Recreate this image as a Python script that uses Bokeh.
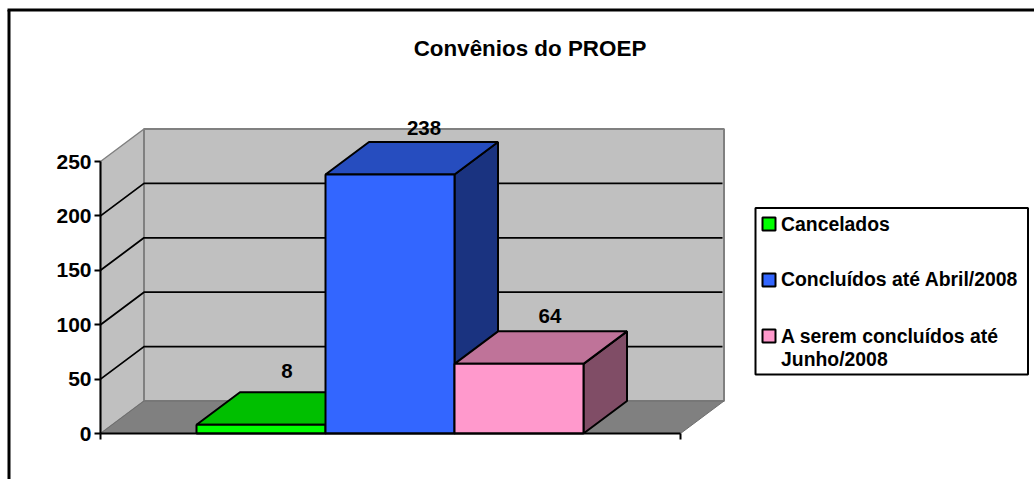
from bokeh.plotting import figure
from bokeh.models import LinearAxis, FixedTicker, Range1d
from bokeh.core.properties import value
from bokeh.embed import file_html
from bokeh.resources import INLINE

TITLE = "Convênios do PROEP"
series = ["Cancelados", "Concluídos até Abril/2008", "A serem concluídos até\nJunho/2008"]
values = [8, 238, 64]
y_ticks = [0, 50, 100, 150, 200, 250]
front = ["#00FF00", "#3366FF", "#FF99CC"]
top = ["#00BF00", "#264DBF", "#BF7399"]
side = ["#008000", "#1A3380", "#804D66"]

W, H = 1034, 479
BAR_PX, BAR0_PX = 129.0, 196.0
Y_PX, Y0_PX = 1.088, 433.0
FONT = value("Liberation Sans")


def X(px):
    return (px - BAR0_PX) / BAR_PX


def Y(px):
    return (Y0_PX - px) / Y_PX


DX = 43.5 / BAR_PX
DY = 32.5 / Y_PX
AX0, AX1 = X(100), X(680)
VMAX = y_ticks[-1]

p = figure(width=W, height=H, output_backend="svg", toolbar_location=None,
           x_axis_type=None, y_axis_type=None,
           x_range=Range1d(X(0), X(W)), y_range=Range1d(Y(H), Y(0)),
           min_border=0, outline_line_color=None, background_fill_color="white")

p.line([X(8.5), X(8.5)], [Y(H), Y(9.5)], line_color="black", line_width=3)
p.line([X(7), X(W)], [Y(9.5), Y(9.5)], line_color="black", line_width=3)

WALL = "#C0C0C0"
EDGE = "#808080"
p.patch([AX0, AX0 + DX, AX0 + DX, AX0], [0, DY, VMAX + DY, VMAX],
        fill_color=WALL, line_color=EDGE, line_width=1.5)
p.patch([AX0 + DX, AX1 + DX, AX1 + DX, AX0 + DX], [DY, DY, VMAX + DY, VMAX + DY],
        fill_color=WALL, line_color=EDGE, line_width=2)
p.patch([AX0, AX0 + DX, AX1 + DX, AX1], [0, DY, DY, 0],
        fill_color="#808080", line_color="#6E6E6E", line_width=1)
for t in y_ticks[1:-1]:
    p.line([AX0, AX0 + DX, AX1 + DX - 1.5 / BAR_PX], [t, t + DY, t + DY],
           line_color="black", line_width=1.8)

for i, v in enumerate(values):
    l, r = float(i), float(i + 1)
    p.patch([r, r + DX, r + DX, r], [0, DY, v + DY, v],
            fill_color=side[i], line_color="black", line_width=2)
    p.patch([l, r, r + DX, l + DX], [v, v, v + DY, v + DY],
            fill_color=top[i], line_color="black", line_width=2)
    p.patch([l, r, r, l], [0, 0, v, v],
            fill_color=front[i], line_color="black", line_width=2)

label_x_shift = [26, 34, 31]   # pixels right of each bar's centre
label_y_gap = [21, 14, 15.5]   # pixels above each bar's back top edge
lab_x = [i + 0.5 + label_x_shift[i] / BAR_PX for i in range(3)]
lab_y = [v + DY + label_y_gap[i] / Y_PX for i, v in enumerate(values)]
p.text(lab_x, lab_y, text=[str(v) for v in values], text_font=FONT, text_font_style="bold",
       text_font_size="20.5px", text_align="center", text_baseline="middle", text_color="black")

yaxis = LinearAxis(fixed_location=AX0, ticker=FixedTicker(ticks=y_ticks), bounds=(0, VMAX),
                   major_tick_out=6, major_tick_in=0, minor_tick_line_color=None,
                   axis_line_color="black", axis_line_width=2,
                   major_tick_line_color="black", major_tick_line_width=2,
                   major_label_standoff=3, major_label_text_font="Liberation Sans",
                   major_label_text_font_style="bold", major_label_text_font_size="21px",
                   major_label_text_color="black")
p.add_layout(yaxis, "left")
xaxis = LinearAxis(fixed_location=0, ticker=FixedTicker(ticks=[AX0, AX1]), bounds=(AX0, AX1),
                   major_tick_out=6, major_tick_in=0, minor_tick_line_color=None,
                   axis_line_color="black", axis_line_width=2,
                   major_tick_line_color="black", major_tick_line_width=2,
                   major_label_text_color=None, major_label_text_font_size="1px")
p.add_layout(xaxis, "below")

p.text([X(529.5)], [Y(48)], text=[TITLE], text_font=FONT, text_font_style="bold",
       text_font_size="22.4px", text_align="center", text_baseline="middle", text_color="black")

p.patch([X(755), X(1027.5), X(1027.5), X(755)], [Y(374), Y(374), Y(207.5), Y(207.5)],
        fill_color="white", line_color="black", line_width=2)
swatch_y = [223.5, 279.5, 335.5]
text_y = [223.5, 278.5, 335.5]
for i, name in enumerate(series):
    y = swatch_y[i]
    p.patch([X(762), X(775), X(775), X(762)], [Y(y + 6.5), Y(y + 6.5), Y(y - 6.5), Y(y - 6.5)],
            fill_color=front[i], line_color="black", line_width=2)
    p.text([X(780.5)], [Y(text_y[i])], text=[name], text_font=FONT, text_font_style="bold",
           text_font_size="19.4px", text_align="left",
           text_baseline="top" if "\n" in name else "middle",
           text_line_height=1.06, text_color="black", y_offset=-11 if "\n" in name else 0)

open("out.html", "w").write(file_html(p, INLINE))
